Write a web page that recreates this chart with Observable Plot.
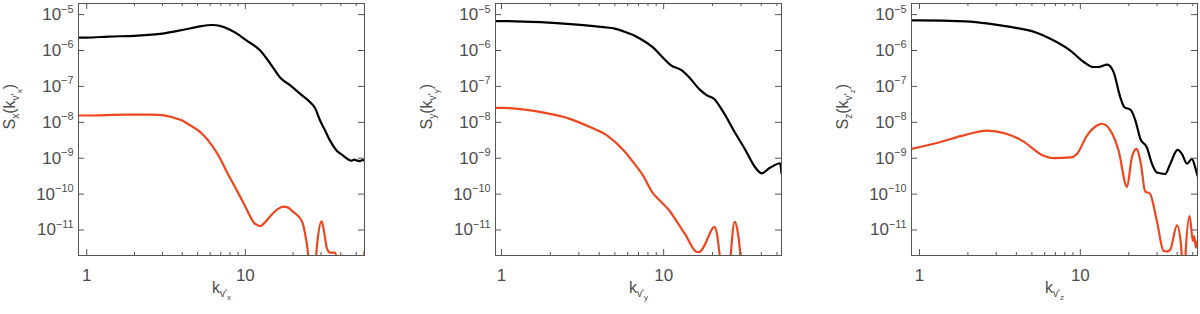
<!DOCTYPE html>
<html><head><meta charset="utf-8">
<script src="https://cdn.jsdelivr.net/npm/d3@7"></script>
<script src="https://cdn.jsdelivr.net/npm/@observablehq/plot@0.6"></script>
<style>
html,body{margin:0;padding:0;background:#fff;}
#row{display:flex;width:1200px;height:314px;}
#row svg{display:block;flex:none;}
</style></head><body><div id="row"></div>
<script>
// ---- Panel 1 (x) ----
const k1Black = [0.887, 1.0, 1.38, 2.0, 3.0, 4.0, 5.0, 6.2, 7.0, 8.0, 9.0, 10.0, 12.4, 14.4, 16.6, 19.2, 22.2, 25.6, 27.5, 29.6, 32.0, 34.2, 37.7, 41.5, 44.0, 46.9, 48.5, 50.0, 52.9, 54.5, 56.4];
const s1Black = [2.29e-6, 2.29e-6, 2.45e-6, 2.57e-6, 2.95e-6, 3.72e-6, 4.57e-6, 5.13e-6, 4.79e-6, 3.80e-6, 2.82e-6, 2.0e-6, 1.0e-6, 4.27e-7, 1.74e-7, 1.07e-7, 6.17e-8, 3.63e-8, 2.51e-8, 1.12e-8, 5.62e-9, 3.09e-9, 1.62e-9, 1.17e-9, 9.55e-10, 8.51e-10, 9.12e-10, 8.71e-10, 8.32e-10, 8.91e-10, 8.51e-10];
const k1Red = [0.887, 1.0, 1.76, 2.59, 3.0, 3.46, 4.0, 4.4, 5.34, 6.17, 6.96, 7.48, 8.87, 10.0, 11.3, 12.4, 13.2, 14.4, 16.0, 17.4, 18.5, 20.1, 22.7, 24.0, 25.0, 25.5, 26.5, 27.6, 28.5, 30.3, 31.5, 32.6, 34.2, 36.8, 37.8, 38.6, 40.0, 54.0, 55.5, 56.4];
const s1Red = [1.55e-8, 1.55e-8, 1.64e-8, 1.64e-8, 1.58e-8, 1.38e-8, 1.12e-8, 8.71e-9, 4.79e-9, 2.24e-9, 9.55e-10, 5.01e-10, 1.23e-10, 4.47e-11, 1.62e-11, 1.29e-11, 1.58e-11, 2.45e-11, 3.80e-11, 4.47e-11, 4.27e-11, 3.16e-11, 1.78e-11, 6.31e-12, 1.58e-12, 3.16e-13, 1.0e-13, 1.0e-12, 5.01e-12, 1.74e-11, 7.94e-12, 3.24e-12, 2.34e-12, 2.34e-12, 1.26e-12, 2.51e-13, 1.0e-13, 1.0e-13, 6.31e-13, 2.51e-12];

// ---- Panel 2 (y) ----
const k2Black = [0.918, 1.0, 1.74, 2.79, 4.28, 5.0, 5.69, 6.72, 7.21, 8.51, 10.3, 11.0, 13.0, 14.3, 16.9, 18.5, 20.5, 23.0, 27.8, 32.1, 36.1, 40.3, 44.7, 48.0, 52.2, 53.3];
const s2Black = [6.61e-6, 6.61e-6, 6.17e-6, 5.37e-6, 4.47e-6, 4.07e-6, 3.39e-6, 2.51e-6, 2.09e-6, 1.26e-6, 5.25e-7, 3.98e-7, 2.75e-7, 1.82e-7, 7.76e-8, 5.62e-8, 4.47e-8, 2.14e-8, 4.79e-9, 1.62e-9, 6.17e-10, 3.80e-10, 5.25e-10, 6.31e-10, 7.24e-10, 3.80e-10];
const k2Red = [0.918, 1.0, 1.82, 2.67, 3.54, 4.49, 5.69, 6.72, 7.5, 8.51, 9.2, 10.8, 12.0, 13.7, 15.8, 16.5, 18.0, 19.0, 20.5, 21.3, 22.2, 23.0, 24.5, 25.3, 25.9, 27.4, 28.5, 29.6, 30.3, 31.0, 53.3];
const s2Red = [2.51e-8, 2.51e-8, 1.86e-8, 1.23e-8, 7.24e-9, 4.27e-9, 1.62e-9, 6.31e-10, 3.16e-10, 1.12e-10, 7.59e-11, 3.55e-11, 1.78e-11, 7.08e-12, 2.51e-12, 2.40e-12, 3.98e-12, 7.08e-12, 1.23e-11, 7.94e-12, 1.78e-12, 3.16e-13, 1.0e-13, 5.01e-13, 2.0e-12, 1.70e-11, 1.0e-11, 2.51e-12, 5.01e-13, 1.0e-13, 1.0e-13];

// ---- Panel 3 (z) ----
const k3Black = [0.892, 1.0, 1.93, 2.69, 3.76, 5.25, 6.51, 8.67, 10.5, 12.1, 13.0, 14.7, 16.1, 17.7, 18.8, 20.5, 22.0, 23.6, 25.9, 27.9, 29.9, 33.7, 36.2, 40.2, 42.8, 46.0, 49.4, 51.8, 53.5];
const s3Black = [6.92e-6, 6.92e-6, 6.46e-6, 5.62e-6, 4.47e-6, 3.24e-6, 2.14e-6, 1.0e-6, 4.79e-7, 3.47e-7, 3.47e-7, 4.07e-7, 2.51e-7, 5.01e-8, 2.63e-8, 2.24e-8, 1.12e-8, 3.47e-9, 2.0e-9, 6.92e-10, 3.98e-10, 3.63e-10, 6.92e-10, 1.70e-9, 1.32e-9, 7.08e-10, 9.55e-10, 5.50e-10, 3.24e-10];
const k3Red = [0.892, 1.32, 1.93, 2.63, 3.42, 4.34, 5.92, 6.83, 8.67, 9.53, 11.0, 12.7, 13.6, 15.4, 17.3, 19.5, 20.9, 22.3, 23.8, 25.3, 27.0, 29.9, 32.9, 34.5, 36.2, 39.9, 42.2, 43.2, 44.3, 45.2, 47.8, 50.1, 51.0, 52.3, 53.5];
const s3Red = [1.82e-9, 2.75e-9, 4.47e-9, 5.89e-9, 4.90e-9, 3.09e-9, 1.17e-9, 1.0e-9, 1.05e-9, 1.32e-9, 4.27e-9, 8.13e-9, 9.12e-9, 5.89e-9, 1.62e-9, 1.58e-10, 1.05e-9, 1.82e-9, 6.92e-10, 1.17e-10, 1.05e-10, 1.78e-11, 2.63e-12, 2.51e-12, 2.82e-12, 1.35e-11, 3.98e-12, 1.0e-12, 3.16e-13, 2.51e-12, 2.45e-11, 4.90e-12, 6.76e-12, 3.24e-12, 4.90e-12];

// ---- Axes ----
const yTicks = [1e-5, 1e-6, 1e-7, 1e-8, 1e-9, 1e-10, 1e-11];
const yTickLabels = ["10^{−5}", "10^{−6}", "10^{−7}", "10^{−8}", "10^{−9}", "10^{−10}", "10^{−11}"];
const xMajorTicks = [1, 10];
const xTickLabels = ["1", "10"];
const xMinorTicks = [2, 3, 4, 5, 6, 7, 8, 9, 20, 30, 40, 50];
const yDomain = [1.95e-12, 2.04e-5];
const xDomains = [[0.887, 56.4], [0.918, 53.3], [0.892, 53.5]];
const yLabels = ["S_{x}(k_{v'_{x}})", "S_{y}(k_{v'_{y}})", "S_{z}(k_{v'_{z}})"];
const xLabels = ["k_{v'_{x}}", "k_{v'_{y}}", "k_{v'_{z}}"];

const pairs = (k, s) => k.map((v, i) => ({k: v, s: s[i]}));
const series = [
  [pairs(k1Black, s1Black), pairs(k1Red, s1Red)],
  [pairs(k2Black, s2Black), pairs(k2Red, s2Red)],
  [pairs(k3Black, s3Black), pairs(k3Red, s3Red)]
];
const margins = [[78, 36], [95, 19], [111, 3]];

const W = 400, H = 314, MT = 3, MB = 59;
const RED = "#f0461e", AX = "#555";
const FS = 17, LFS = 16;

function parseRich(str) {
  const out = [];
  (function rec(s, lvl) {
    let buf = "", i = 0;
    while (i < s.length) {
      const c = s[i];
      if ((c === "^" || c === "_") && s[i + 1] === "{") {
        if (buf) { out.push({t: buf, l: lvl}); buf = ""; }
        let depth = 0, j = i + 1;
        for (; j < s.length; j++) {
          if (s[j] === "{") depth++;
          else if (s[j] === "}") { depth--; if (depth === 0) break; }
        }
        rec(s.slice(i + 2, j), lvl + (c === "^" ? 1 : -1));
        i = j + 1;
      } else { buf += c; i++; }
    }
    if (buf) out.push({t: buf, l: lvl});
  })(str, 0);
  return out;
}
// Turn ^{..} / _{..} markup into tspans, then re-anchor the whole string
function richify(svg) {
  svg.querySelectorAll("text").forEach(t => {
    const s = t.textContent;
    if (!/[\^_]\{/.test(s)) return;
    const cs = getComputedStyle(t);
    const base = parseFloat(cs.fontSize) || FS;
    const anchor = cs.textAnchor;
    const segs = parseRich(s);
    t.textContent = "";
    let cur = 0;
    const spans = [];
    segs.forEach(g => {
      const ts = document.createElementNS("http://www.w3.org/2000/svg", "tspan");
      const size = g.l === 0 ? base : Math.abs(g.l) === 1 ? base * 0.64 : base * 0.5;
      const off = g.l === 0 ? 0 : g.l > 0 ? -0.44 * base : (g.l === -1 ? 0.28 * base : 0.48 * base);
      ts.setAttribute("font-size", size);
      ts.setAttribute("dy", off - cur);
      cur = off;
      ts.textContent = g.t;
      t.appendChild(ts);
      spans.push(ts);
    });
    t.style.textAnchor = "start";
    const len = t.getComputedTextLength();
    const shift = anchor === "middle" ? -len / 2 : anchor === "end" ? -len : 0;
    spans[0].setAttribute("dx", shift);
  });
}

const row = document.getElementById("row");
for (let p = 0; p < 3; p++) {
  const [mL, mR] = margins[p];
  const pw = W - mL - mR, ph = H - MT - MB;
  const [black, red] = series[p];
  const svg = Plot.plot({
    width: W, height: H,
    marginLeft: mL, marginRight: mR, marginTop: MT, marginBottom: MB,
    x: {type: "log", domain: xDomains[p]},
    y: {type: "log", domain: yDomain},
    style: {fontFamily: "'Liberation Sans', Arial, Helvetica, sans-serif", fontSize: FS + "px", color: "#4d4d4d", background: "#fff", overflow: "visible"},
    marks: [
      Plot.line(black, {x: "k", y: "s", stroke: "#000", strokeWidth: 2.2, curve: "monotone-x", clip: true}),
      Plot.line(red, {x: "k", y: "s", stroke: RED, strokeWidth: 2.2, curve: "monotone-x", clip: true}),
      Plot.frame({stroke: AX, strokeWidth: 1}),
      Plot.tickY(yTicks, {y: d => d, insetRight: pw - 6, stroke: AX}),
      Plot.tickY(yTicks, {y: d => d, insetLeft: pw - 6, stroke: AX}),
      Plot.tickX(xMajorTicks, {x: d => d, insetTop: ph - 6, stroke: AX}),
      Plot.tickX(xMajorTicks, {x: d => d, insetBottom: ph - 6, stroke: AX}),
      Plot.tickX(xMinorTicks, {x: d => d, insetTop: ph - 3, stroke: AX}),
      Plot.tickX(xMinorTicks, {x: d => d, insetBottom: ph - 3, stroke: AX}),
      Plot.axisY({ticks: yTicks, tickSize: 0, tickPadding: 5, tickFormat: d => yTickLabels[yTicks.indexOf(d)], label: null}),
      Plot.axisX({ticks: xMajorTicks, tickSize: 0, tickPadding: 13, tickFormat: d => xTickLabels[xMajorTicks.indexOf(d)], label: null}),
      Plot.text([yLabels[p]], {text: d => d, frameAnchor: "left", rotate: -90, dx: -69, fontSize: LFS}),
      Plot.text([xLabels[p]], {text: d => d, frameAnchor: "bottom", dy: 37, fontSize: LFS})
    ]
  });
  row.appendChild(svg);
  richify(svg);
}
</script></body></html>
